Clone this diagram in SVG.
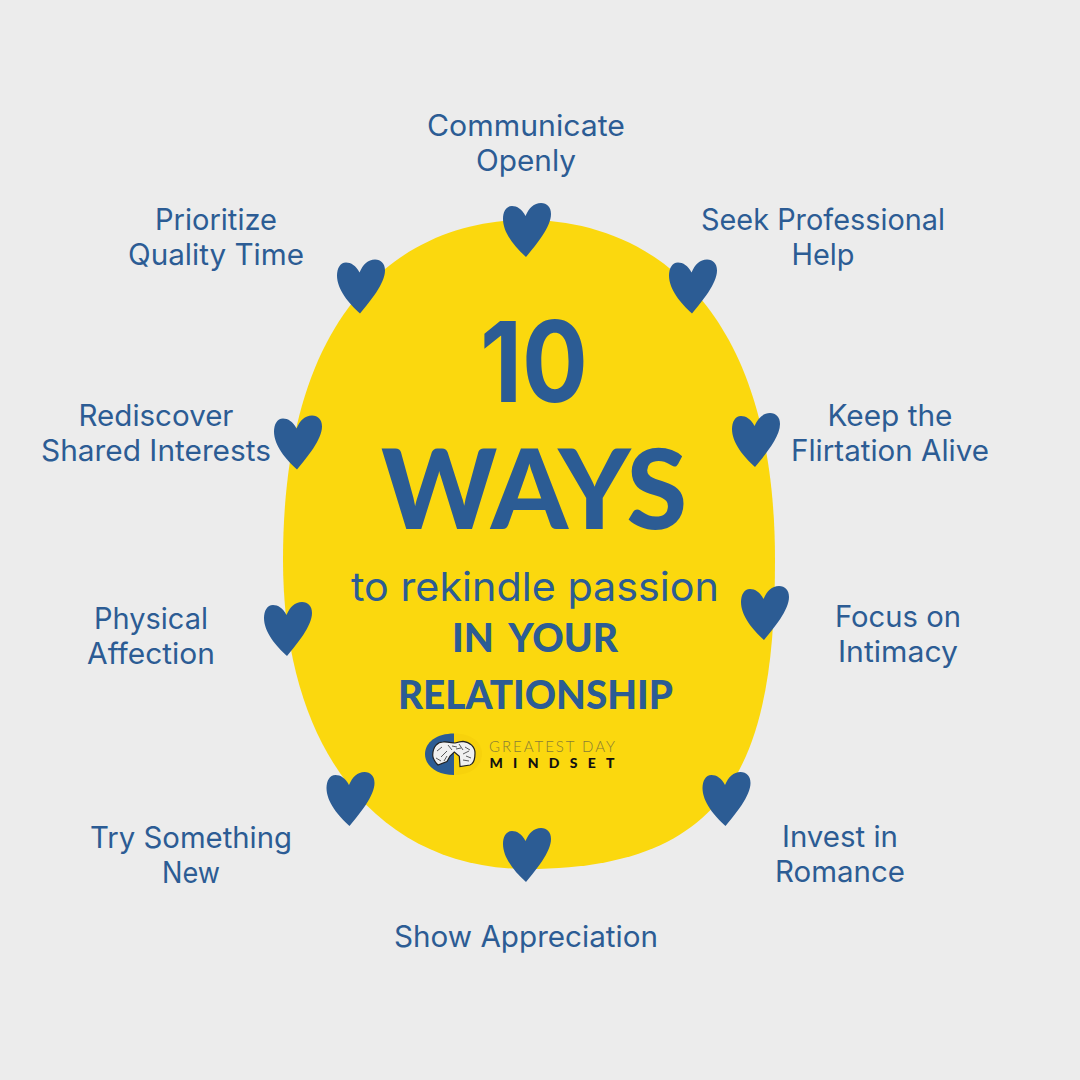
<svg xmlns="http://www.w3.org/2000/svg" width="1080" height="1080" viewBox="0 0 1080 1080">
<style>
.l{font-family:"Inter","Open Sans",sans-serif;font-size:29.5px;fill:#2c5c94;text-anchor:middle}
.h{font-family:"Lato","Liberation Sans",sans-serif;font-weight:900;fill:#2c5c94;text-anchor:middle}
.hrt{fill:#2c5c94}
</style>
<defs><path id="heart" d="M22.500 13C19 6 14 3 9 3C3 3 0 9 0 16C0 30 12 44 23 54C33 42 48 24 48 11C48 4 44 0 38 0C31 0 26 5 22.500 13Z"/></defs>
<rect width="1080" height="1080" fill="#ececec"/>
<path id="blob" fill="#fbd80e" d="M527 220C634 220 775 288 775 560C775 761 730 869 527 869C377 869 283 748 283 560C283 288 420 220 527 220Z"/>
<g id="connectors"></g>
<g id="hearts" class="hrt">
<use id="h1" href="#heart" x="503" y="203"/><use id="h2" href="#heart" x="669" y="259.500"/><use id="h3" href="#heart" x="732" y="413"/><use id="h4" href="#heart" x="741" y="586"/><use id="h5" href="#heart" x="702.500" y="772"/><use id="h6" href="#heart" x="503" y="828"/><use id="h7" href="#heart" x="326.500" y="772"/><use id="h8" href="#heart" x="264" y="602"/><use id="h9" href="#heart" x="274" y="415.500"/><use id="h10" href="#heart" x="337" y="259.500"/>
</g>
<g id="labels">
<g id="n1"><text class="l" x="526" y="136" textLength="198" lengthAdjust="spacingAndGlyphs">Communicate</text><text class="l" x="526" y="171" textLength="100" lengthAdjust="spacingAndGlyphs">Openly</text></g>
<g id="n2"><text class="l" x="823" y="230" textLength="244" lengthAdjust="spacingAndGlyphs">Seek Professional</text><text class="l" x="823" y="265" textLength="63" lengthAdjust="spacingAndGlyphs">Help</text></g>
<g id="n3"><text class="l" x="890" y="426" textLength="125" lengthAdjust="spacingAndGlyphs">Keep the</text><text class="l" x="890" y="461" textLength="198" lengthAdjust="spacingAndGlyphs">Flirtation Alive</text></g>
<g id="n4"><text class="l" x="898" y="627" textLength="126" lengthAdjust="spacingAndGlyphs">Focus on</text><text class="l" x="898" y="662" textLength="120" lengthAdjust="spacingAndGlyphs">Intimacy</text></g>
<g id="n5"><text class="l" x="840" y="847" textLength="116" lengthAdjust="spacingAndGlyphs">Invest in</text><text class="l" x="840" y="882" textLength="130" lengthAdjust="spacingAndGlyphs">Romance</text></g>
<g id="n6"><text class="l" x="526" y="947" textLength="264" lengthAdjust="spacingAndGlyphs">Show Appreciation</text></g>
<g id="n7"><text class="l" x="191" y="848" textLength="202" lengthAdjust="spacingAndGlyphs">Try Something</text><text class="l" x="191" y="883" textLength="58" lengthAdjust="spacingAndGlyphs">New</text></g>
<g id="n8"><text class="l" x="151" y="629" textLength="114" lengthAdjust="spacingAndGlyphs">Physical</text><text class="l" x="151" y="664" textLength="128" lengthAdjust="spacingAndGlyphs">Affection</text></g>
<g id="n9"><text class="l" x="156" y="426" textLength="155" lengthAdjust="spacingAndGlyphs">Rediscover</text><text class="l" x="156" y="461" textLength="230" lengthAdjust="spacingAndGlyphs">Shared Interests</text></g>
<g id="n10"><text class="l" x="216" y="230" textLength="122" lengthAdjust="spacingAndGlyphs">Prioritize</text><text class="l" x="216" y="265" textLength="176" lengthAdjust="spacingAndGlyphs">Quality Time</text></g>
</g>
<g id="title">
<text x="534" y="402" font-family="Inter,sans-serif" font-weight="700" font-size="112" fill="#2c5c94" text-anchor="middle" textLength="108" lengthAdjust="spacingAndGlyphs">10</text>
<text class="h" x="534" y="529" font-size="110" textLength="306" lengthAdjust="spacing">WAYS</text>
<text x="535" y="601" font-family="Inter,sans-serif" font-size="40" fill="#2c5c94" text-anchor="middle" textLength="368" lengthAdjust="spacingAndGlyphs">to rekindle passion</text>
<text class="h" x="535" y="652" font-size="40" word-spacing="7" textLength="166" lengthAdjust="spacingAndGlyphs">IN YOUR</text>
<text class="h" x="535.500" y="709" font-size="40" textLength="275" lengthAdjust="spacingAndGlyphs">RELATIONSHIP</text>
</g>
<g id="logo">
<path d="M454 733.500C437 733.500 425 742 425 754C425 766 437 775 454 775Z" fill="#2c5c94"/>
<path d="M454 733.500C471 733.500 482 742 482 754C482 766 471 775 454 775Z" fill="#f7d20c"/>
<path d="M432.700 755C433 746 438 742 443 742C448 741.500 452 743 455 743C458 742 461 741.300 463 741.300C470 742 475 747 475 753C475 760 473 764 470 765L460 766.500L459.300 756.300L454.300 752L450 756L447 761.500L438 765C435 762 432.700 759 432.700 755Z" fill="#f0f0f0" stroke="#222" stroke-width="1.200"/>
<path d="M437 751l5-4M441 757l6-6M436 758l5 3M444 761l3-5M448 745l4 5M452 746l5 1M459 744l4 6M465 747l5 3M463 754l6-3M463 760l6 1M466 756l5 2M456 749l5-1" stroke="#333" stroke-width=".8" fill="none"/>
</g>
<g id="logotext">
<text x="489" y="752" font-family="Lato,sans-serif" font-weight="300" font-size="15" fill="#8a7d35" textLength="126">GREATEST DAY</text>
<text x="489.500" y="768" font-family="Lato,sans-serif" font-weight="900" font-size="14" fill="#111" textLength="125">MINDSET</text>
</g>
</svg>
